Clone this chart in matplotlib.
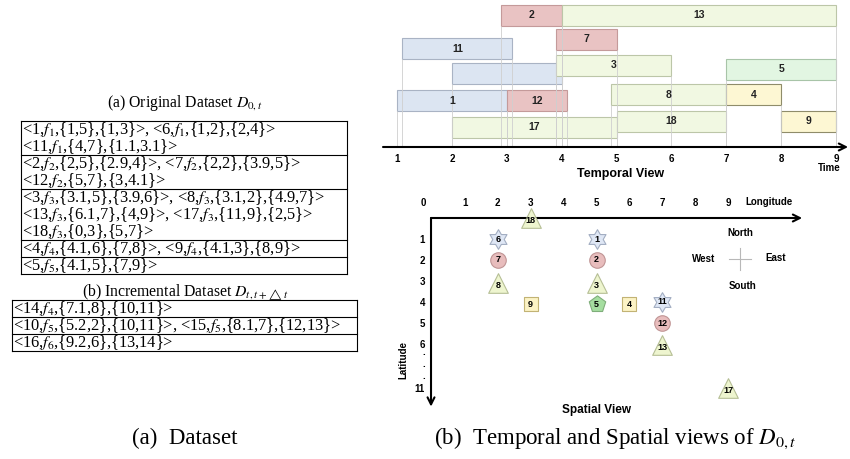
import numpy as np
import matplotlib
matplotlib.use('Agg')
import matplotlib.pyplot as plt
from matplotlib.path import Path
import matplotlib.transforms as mtransforms

plt.rcParams['font.family'] = 'Liberation Serif'
plt.rcParams['mathtext.fontset'] = 'stix'

# original dataset D_{0,t}: <id, feature, {lat, lon}, {t_start, t_end}>
obj_id = [1, 6, 11, 2, 7, 12, 3, 8, 13, 17, 18, 4, 9, 5]
feature = [1, 1, 1, 2, 2, 2, 3, 3, 3, 3, 3, 4, 4, 5]
lat = [1, 1, 4, 2, 2, 5, 3.1, 3.1, 6.1, 11, 0, 4.1, 4.1, 4.1]
lon = [5, 2, 7, 5, 2, 7, 5, 2, 7, 9, 3, 6, 3, 5]
t_start = [1, 2, 1.1, 2.9, 3.9, 3, 3.9, 4.9, 4, 2, 5, 7, 8, 7]
t_end = [3, 4, 3.1, 4, 5, 4.1, 6, 7, 9, 5, 7, 8, 9, 9]

# incremental dataset D_{t,t+dt}
inc_id = [14, 10, 15, 16]
inc_feature = [4, 5, 5, 6]
inc_lat = [7.1, 5.2, 8.1, 9.2]
inc_lon = [8, 2, 7, 6]
inc_t_start = [10, 10, 12, 13]
inc_t_end = [11, 11, 13, 14]

time_ticks = [1, 2, 3, 4, 5, 6, 7, 8, 9]
lon_ticks = [1, 2, 3, 4, 5, 6, 7, 8, 9]
lat_ticks = [1, 2, 3, 4, 5, 6, 11]

# layout of the temporal view (pixel row of each bar, top edge)
lane_top = {1: 90, 6: 63, 11: 38, 2: 5, 7: 29, 12: 90, 3: 55, 8: 84,
            13: 5, 17: 117, 18: 111, 4: 84, 9: 111, 5: 59}
hidden_label = [6]
BAR_H = 21
# where the "..." of the broken latitude axis sits
lat_dots = [6.85, 8.2, 9.55]

bar_fc = {1: '#dce5f2', 2: '#e9c3c3', 3: '#f1f8e2', 4: '#fdf7d3', 5: '#e2f6e2'}
bar_ec = {1: '#a9b3c4', 2: '#c49a9a', 3: '#bcc6a8', 4: '#8f8c6a', 5: '#a8c4a8'}

ang = np.deg2rad(90 + 30 * np.arange(12))
rad = np.where(np.arange(12) % 2 == 0, 1.0, 0.58)
star = np.c_[rad * np.cos(ang), rad * np.sin(ang)]
hexagram = Path(np.vstack([star, star[:1]]), closed=True)

mk_marker = {1: hexagram, 2: 'o', 3: '^', 4: 's', 5: 'p'}
mk_size = {1: 200, 2: 125, 3: 200, 4: 115, 5: 155}
mk_fc = {1: '#dfe7f5', 2: '#e8bdbd', 3: '#eef5cf', 4: '#fcf3c5', 5: '#a5dea0'}
mk_ec = {1: '#a3aec2', 2: '#c09595', 3: '#b6bf95', 4: '#c2b375', 5: '#7fae7a'}

SANS = dict(family='Liberation Sans', fontweight='bold')
W, H = 850, 459


def fmt(v):
    return '{:g}'.format(v)


def record(i, f, la, lo, t0, t1):
    return '<%d,$f_{%d}$,{%s,%s},{%s,%s}>' % (i, f, fmt(la), fmt(lo), fmt(t0), fmt(t1))


def group_rows(ids, feats, las, los, t0s, t1s):
    groups = []
    for f in sorted(set(feats)):
        recs = [record(ids[k], feats[k], las[k], los[k], t0s[k], t1s[k])
                for k in range(len(ids)) if feats[k] == f]
        groups.append([', '.join(recs[j:j + 2]) for j in range(0, len(recs), 2)])
    return groups


fig = plt.figure(figsize=(W / 100, H / 100), dpi=100)

# overlay in pixel coordinates for tables, titles and captions
ax_px = fig.add_axes([0, 0, 1, 1])
ax_px.set_xlim(0, W)
ax_px.set_ylim(H, 0)
ax_px.axis('off')


def draw_table(groups, x0, x1, top, pitch):
    y = top
    ax_px.plot([x0, x1], [y, y], color='black', lw=0.8)
    for rows in groups:
        for row in rows:
            ax_px.text(x0 + 1.5, y + pitch / 2 + 4.3, row, fontsize=11.8, va='baseline')
            y += pitch
        ax_px.plot([x0, x1], [y, y], color='black', lw=0.8)
    ax_px.plot([x0, x0], [top, y], color='black', lw=0.8)
    ax_px.plot([x1, x1], [top, y], color='black', lw=0.8)


ax_px.text(185, 103, '(a) Original Dataset $D_{0,t}$', fontsize=11.3, ha='center', va='center')
draw_table(group_rows(obj_id, feature, lat, lon, t_start, t_end), 21, 347, 121, 17)
ax_px.text(185, 292, r'(b) Incremental Dataset $D_{t,t+\triangle t}$', fontsize=11.3,
           ha='center', va='center')
draw_table(group_rows(inc_id, inc_feature, inc_lat, inc_lon, inc_t_start, inc_t_end),
           12, 357, 300, 17)
ax_px.text(185, 438, '(a)  Dataset', fontsize=16.5, ha='center', va='center')
ax_px.text(615, 438, '(b)  Temporal and Spatial views of $D_{0,t}$', fontsize=16.5,
           ha='center', va='center')

# temporal view
ax_t = fig.add_axes([380 / W, 1 - 150 / H, 470 / W, 150 / H])
ax_t.set_xlim(1 - 17 / 54.875, 9 + 14 / 54.875)
ax_t.set_ylim(150, 0)
for k in range(len(obj_id)):
    f = feature[k]
    top = lane_top[obj_id[k]]
    ax_t.barh(top + BAR_H / 2, t_end[k] - t_start[k], left=t_start[k], height=BAR_H,
              color=bar_fc[f], edgecolor=bar_ec[f], linewidth=0.8, zorder=2)
    ax_t.vlines([t_start[k], t_end[k]], top + BAR_H, 147, color='#cfcfcf', lw=0.6, zorder=3)
    if obj_id[k] not in hidden_label:
        ax_t.text((t_start[k] + t_end[k]) / 2, top + BAR_H / 2, str(obj_id[k]), fontsize=7.5,
                  ha='center', va='center', color='#222222', zorder=4, **SANS)
ax_t.annotate('', xy=(9.22, 147), xytext=(0.745, 147), annotation_clip=False,
              arrowprops=dict(arrowstyle='->,head_length=0.5,head_width=0.25', lw=1.5,
                              color='black', shrinkA=0, shrinkB=0))
ax_t.set_xticks(time_ticks)
ax_t.set_yticks([])
ax_t.tick_params(axis='x', length=0, pad=3, labelsize=7)
for lbl in ax_t.get_xticklabels():
    lbl.set_family('Liberation Sans')
    lbl.set_fontweight('bold')
for s in ax_t.spines.values():
    s.set_visible(False)
ax_t.patch.set_alpha(0)
ax_px.text(829, 168, 'Time', fontsize=7, ha='center', va='center', **SANS)
ax_px.text(621, 174, 'Temporal View', fontsize=9, ha='center', va='center', **SANS)


# spatial view, latitude axis is broken after 6
def lat_fwd(v):
    v = np.asarray(v, float)
    return np.where(v <= 6, v, 6 + (v - 6) * 0.42)


def lat_inv(v):
    v = np.asarray(v, float)
    return np.where(v <= 6, v, 6 + (v - 6) / 0.42)


ax_s = fig.add_axes([380 / W, 1 - 420 / H, 470 / W, 230 / H])
ax_s.set_yscale('function', functions=(lat_fwd, lat_inv))
ax_s.set_xlim(-52 / 32.9, 418 / 32.9)
ax_s.set_ylim(float(lat_inv(202 / 21)), -28 / 21)
for s in ax_s.spines.values():
    s.set_color('none')
ax_s.spines['top'].set_position(('data', 0))
ax_s.spines['left'].set_position(('data', 0))
ax_s.patch.set_alpha(0)

ax_s.xaxis.tick_top()
ax_s.set_xticks([-0.25] + lon_ticks)
ax_s.set_xticklabels(['0'] + [str(v) for v in lon_ticks])
ax_s.set_yticks(lat_ticks[:6] + lat_dots + lat_ticks[6:])
ax_s.set_yticklabels([str(v) for v in lat_ticks[:6]] + ['.'] * len(lat_dots)
                     + [str(v) for v in lat_ticks[6:]])
ax_s.yaxis.set_minor_locator(matplotlib.ticker.NullLocator())
ax_s.tick_params(axis='x', length=0, pad=7, labelsize=7)
ax_s.tick_params(axis='y', length=0, pad=5, labelsize=7)
for lbl in ax_s.get_xticklabels() + ax_s.get_yticklabels():
    lbl.set_family('Liberation Sans')
    lbl.set_fontweight('bold')

arrow = dict(arrowstyle='->,head_length=0.5,head_width=0.25', lw=1.5, color='black',
             shrinkA=0, shrinkB=0)
ax_s.annotate('', xy=(11.25, 0), xytext=(-0.03, 0), arrowprops=arrow, annotation_clip=False)
ax_s.annotate('', xy=(-0.03, 13.1), xytext=(-0.03, 0), arrowprops=arrow, annotation_clip=False)

low = mtransforms.offset_copy(ax_s.transData, fig=fig, y=-2, units='points')
for f in sorted(set(feature)):
    idx = [k for k in range(len(obj_id)) if feature[k] == f]
    ax_s.scatter([lon[k] for k in idx], [lat[k] for k in idx], marker=mk_marker[f],
                 s=mk_size[f], c=mk_fc[f], edgecolors=mk_ec[f], linewidths=0.8, zorder=4)
    for k in idx:
        ax_s.text(lon[k], lat[k], str(obj_id[k]), fontsize=6.5, ha='center', va='center',
                  transform=low if f == 3 else ax_s.transData, zorder=5, **SANS)

ax_px.text(769, 202, 'Longitude', fontsize=7, ha='center', va='center', **SANS)
ax_px.text(403, 360, 'Latitude', fontsize=7, ha='center', va='center', rotation=90, **SANS)
ax_px.text(597, 410, 'Spatial View', fontsize=8.5, ha='center', va='center', **SANS)

# compass
ax_px.plot([729, 751], [259, 259], color='#b8b8b8', lw=0.8)
ax_px.plot([740, 740], [248, 270], color='#b8b8b8', lw=0.8)
ax_px.text(740, 233, 'North', fontsize=7, ha='center', va='center', **SANS)
ax_px.text(743, 286, 'South', fontsize=7, ha='center', va='center', **SANS)
ax_px.text(704, 259, 'West', fontsize=7, ha='center', va='center', **SANS)
ax_px.text(776, 258, 'East', fontsize=7, ha='center', va='center', **SANS)

fig.savefig('out.png', dpi=100)
